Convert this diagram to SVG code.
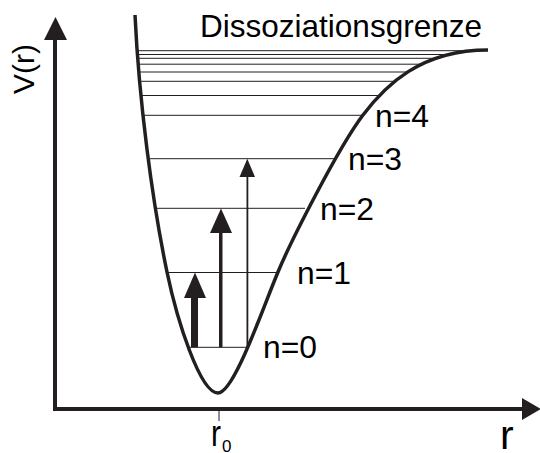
<svg xmlns="http://www.w3.org/2000/svg" width="540" height="453" viewBox="0 0 540 453">
<style>
.txt{font-family:"Liberation Sans",Arial,sans-serif;fill:#000}
.lvl{stroke:#231f20;stroke-width:1;fill:none}
.axis{stroke:#231f20;stroke-width:4;fill:none}
.curve{stroke:#231f20;stroke-width:3.5;fill:none;stroke-linecap:butt}
.head{fill:#231f20}
</style>
<rect width="540" height="453" fill="#fff"/>
<g id="levels">
<line class="lvl" x1="138" y1="50.7" x2="470" y2="50.7"/>
<line class="lvl" x1="138" y1="54.5" x2="443" y2="54.5"/>
<line class="lvl" x1="138" y1="58.3" x2="433" y2="58.3"/>
<line class="lvl" x1="138" y1="64.2" x2="420" y2="64.2"/>
<line class="lvl" x1="139" y1="72" x2="408" y2="72"/>
<line class="lvl" x1="140" y1="81.3" x2="395" y2="81.3"/>
<line class="lvl" x1="141" y1="95.5" x2="381" y2="95.5"/>
<line class="lvl" x1="143" y1="115.3" x2="364" y2="115.3"/>
<line class="lvl" x1="150" y1="158.7" x2="335" y2="158.7"/>
<line class="lvl" x1="157" y1="208.3" x2="305" y2="208.3"/>
<line class="lvl" x1="167" y1="272.5" x2="278" y2="272.5"/>
<line class="lvl" x1="190" y1="347.3" x2="248" y2="347.3"/>
</g>
<g id="curve">
<path class="curve" d="M135,15 C139,100 152,200 167,272 C177,320 200,393 218,393 C234,393 262,310 278,272 C290,243 338,148 363,115 C385,86 420,50 488,50"/>
</g>
<g id="axes">
<line class="axis" x1="55" y1="411" x2="55" y2="38"/>
<polygon class="head" points="44,40 67,40 55.5,17"/>
<line class="axis" x1="53" y1="409" x2="524" y2="409"/>
<polygon class="head" points="522,398 522,420 541,409"/>
<line x1="219" y1="411" x2="219" y2="421" stroke="#231f20" stroke-width="1"/>
</g>
<g id="connectors">
<g id="arrow1">
<rect x="191" y="296" width="7" height="51.3" class="head"/>
<polygon class="head" points="184,298 206,298 195,272.5"/>
</g>
<g id="arrow2">
<rect x="219" y="231" width="3.5" height="116.3" class="head"/>
<polygon class="head" points="210,233 232,233 221,208.5"/>
</g>
<g id="arrow3">
<rect x="246.5" y="175" width="1.8" height="172.3" class="head"/>
<polygon class="head" points="239.5,177 255,177 247.3,158.7"/>
</g>
</g>
<g id="labels">
<text class="txt" x="200" y="37" font-size="30.5" textLength="282" lengthAdjust="spacingAndGlyphs">Dissoziationsgrenze</text>
<text class="txt" x="375" y="127" font-size="31" textLength="54" lengthAdjust="spacingAndGlyphs">n=4</text>
<text class="txt" x="348" y="170" font-size="31" textLength="54" lengthAdjust="spacingAndGlyphs">n=3</text>
<text class="txt" x="320" y="220" font-size="31" textLength="54" lengthAdjust="spacingAndGlyphs">n=2</text>
<text class="txt" x="297" y="284" font-size="31" textLength="54" lengthAdjust="spacingAndGlyphs">n=1</text>
<text class="txt" x="263" y="358" font-size="31" textLength="54" lengthAdjust="spacingAndGlyphs">n=0</text>
<text class="txt" font-size="30" text-anchor="middle" transform="translate(34,69) rotate(-90)">V(r)</text>
<text class="txt" x="211" y="446" font-size="37" textLength="10" lengthAdjust="spacingAndGlyphs">r</text>
<text class="txt" x="222" y="452" font-size="17">0</text>
<text class="txt" x="500" y="449" font-size="41">r</text>
</g>
</svg>
